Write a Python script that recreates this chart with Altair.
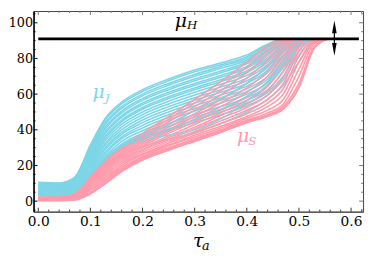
import altair as alt
import pandas as pd

# ---------------- data ----------------
X_GRID = [0.0, 0.04, 0.07, 0.10, 0.13, 0.16, 0.20, 0.25, 0.30, 0.35, 0.40, 0.44, 0.47, 0.50, 0.53, 0.56, 0.60]

MU_J_CURVES = [
    [10.6, 10.2, 13.5, 31.5, 47.0, 55.5, 62.5, 68.5, 73.5, 77.5, 82.0, 88.0, 91.0, 91, 91, 91, 91],
    [10.1, 9.8, 13.0, 30.5, 46.0, 54.5, 61.5, 67.5, 72.5, 76.5, 81.0, 87.5, 91.0, 91, 91, 91, 91],
    [9.6, 9.3, 12.5, 29.5, 44.5, 53.0, 60.0, 66.0, 71.0, 75.5, 80.0, 86.5, 90.5, 91, 91, 91, 91],
    [9.1, 8.9, 12.0, 28.5, 43.5, 52.0, 59.0, 65.0, 70.0, 74.5, 79.0, 86.0, 90.5, 91, 91, 91, 91],
    [8.7, 8.5, 11.5, 27.5, 42.0, 50.5, 57.5, 63.5, 68.5, 73.0, 78.0, 85.0, 90.0, 91, 91, 91, 91],
    [8.3, 8.1, 11.0, 26.5, 41.0, 49.5, 56.5, 62.5, 67.5, 72.0, 77.0, 84.0, 89.5, 91, 91, 91, 91],
    [7.9, 7.7, 10.5, 25.5, 39.5, 48.0, 55.0, 61.0, 66.0, 70.5, 75.5, 83.0, 89.0, 91, 91, 91, 91],
    [7.5, 7.3, 10.0, 24.5, 38.5, 47.0, 54.0, 60.0, 65.0, 69.5, 74.5, 82.0, 88.5, 91, 91, 91, 91],
    [7.1, 7.0, 9.6, 23.5, 37.0, 45.5, 52.5, 58.5, 63.5, 68.0, 73.0, 80.5, 88.0, 91, 91, 91, 91],
    [6.7, 6.6, 9.2, 22.5, 36.0, 44.5, 51.5, 57.5, 62.5, 67.0, 72.0, 79.5, 87.5, 91, 91, 91, 91],
    [6.3, 6.2, 8.8, 21.5, 34.5, 43.0, 50.0, 56.0, 61.0, 65.5, 70.5, 78.0, 86.5, 90.5, 91, 91, 91],
    [6.0, 5.9, 8.4, 20.5, 33.0, 41.5, 48.5, 54.5, 59.5, 64.0, 69.0, 76.5, 85.5, 90.5, 91, 91, 91],
    [5.6, 5.5, 8.0, 19.5, 32.0, 40.0, 47.0, 53.0, 58.0, 62.5, 67.5, 75.0, 84.5, 90.0, 91, 91, 91],
    [5.3, 5.2, 7.6, 18.5, 30.5, 38.5, 45.5, 51.5, 56.5, 61.0, 66.0, 73.5, 83.5, 90.0, 91, 91, 91],
    [5.0, 4.9, 7.2, 17.5, 29.5, 37.5, 44.0, 50.0, 55.0, 59.5, 64.5, 72.0, 82.0, 89.5, 91, 91, 91],
    [4.7, 4.6, 6.8, 16.5, 28.0, 36.0, 42.5, 48.5, 53.5, 58.0, 63.0, 70.0, 80.5, 89.0, 91, 91, 91],
    [4.4, 4.3, 6.4, 15.5, 27.0, 35.0, 41.0, 47.0, 52.0, 56.5, 61.5, 68.5, 79.0, 88.5, 91, 91, 91],
    [4.1, 4.0, 6.0, 14.5, 25.5, 33.5, 39.5, 45.5, 50.5, 55.0, 60.0, 66.5, 77.0, 88.0, 91, 91, 91],
    [3.8, 3.7, 5.6, 13.5, 24.5, 32.0, 38.0, 43.5, 48.5, 53.0, 58.0, 64.5, 75.0, 87.0, 91, 91, 91],
    [3.5, 3.4, 5.2, 13.0, 23.5, 31.0, 36.5, 42.0, 47.0, 51.5, 56.5, 62.5, 72.5, 86.0, 91, 91, 91],
    [3.2, 3.1, 4.8, 12.5, 22.5, 30.0, 35.5, 40.5, 45.5, 50.0, 55.0, 61.0, 70.0, 84.0, 91, 91, 91],
    [3.0, 2.9, 4.5, 12.0, 22.0, 29.0, 34.5, 39.5, 44.0, 48.5, 53.5, 59.5, 68.0, 82.0, 90.5, 91, 91],
    [2.9, 2.8, 4.2, 11.0, 19.5, 25.5, 30.5, 34.5, 38.5, 43.5, 50.0, 57.0, 65.0, 78.0, 89.5, 91, 91],
]

# a few μ_J curves that run through the μ_S bundle and show on top of it
MU_J_CROSSING = [
    [3.1, 3.0, 5.0, 14.5, 23.5, 30.5, 34.0, 37.0, 40.0, 46.0, 56.0, 65.5, 75.0, 86.5, 91, 91, 91],
    [3.4, 3.3, 5.2, 14.8, 24.0, 31.0, 35.5, 40.0, 45.5, 51.5, 59.0, 67.0, 78.0, 89.0, 91, 91, 91],
    [3.6, 3.5, 5.4, 15.0, 24.5, 31.5, 37.0, 43.0, 50.5, 57.5, 66.0, 75.5, 85.0, 90.5, 91, 91, 91],
]

MU_S_CURVES = [
    [2.6, 2.6, 5.0, 14.5, 23.5, 30.5, 38.0, 47.5, 57.0, 67.0, 78.0, 87.0, 91.0, 91, 91, 91, 91],
    [2.5, 2.5, 4.8, 14.0, 23.0, 30.0, 37.0, 46.0, 55.0, 64.5, 75.0, 84.5, 90.0, 91, 91, 91, 91],
    [2.3, 2.3, 4.6, 13.5, 22.5, 29.0, 36.0, 44.5, 53.0, 62.0, 72.0, 82.0, 89.0, 91, 91, 91, 91],
    [2.2, 2.2, 4.4, 13.0, 22.0, 28.5, 35.0, 43.0, 51.0, 59.5, 69.0, 79.0, 87.5, 91, 91, 91, 91],
    [2.1, 2.1, 4.2, 12.5, 21.0, 27.5, 34.0, 41.5, 49.0, 57.0, 66.0, 76.0, 86.0, 90.5, 91, 91, 91],
    [1.9, 1.9, 4.0, 12.0, 20.5, 27.0, 33.0, 40.0, 47.5, 55.0, 63.5, 73.0, 84.0, 90.5, 91, 91, 91],
    [1.8, 1.8, 3.7, 11.5, 20.0, 26.0, 32.0, 39.0, 46.0, 53.0, 61.0, 70.0, 81.5, 90.0, 91, 91, 91],
    [1.7, 1.7, 3.4, 11.0, 19.0, 25.5, 31.0, 38.0, 44.5, 51.0, 58.5, 67.0, 79.0, 89.5, 91, 91, 91],
    [1.5, 1.5, 3.1, 10.5, 18.5, 24.5, 30.0, 36.5, 43.0, 49.5, 56.5, 64.5, 76.0, 88.5, 91, 91, 91],
    [1.4, 1.4, 2.8, 10.0, 17.5, 24.0, 29.0, 35.5, 41.5, 48.0, 54.5, 62.0, 73.0, 87.5, 91, 91, 91],
    [1.3, 1.3, 2.5, 9.5, 17.0, 23.0, 28.5, 34.5, 40.5, 46.5, 52.5, 59.5, 69.5, 86.0, 91, 91, 91],
    [1.1, 1.1, 2.2, 9.0, 16.0, 22.0, 27.5, 33.5, 39.0, 45.0, 51.0, 57.0, 66.0, 84.0, 91, 91, 91],
    [1.0, 1.0, 2.0, 8.0, 15.0, 21.0, 26.5, 32.5, 38.0, 43.5, 49.0, 55.0, 63.0, 81.0, 90.5, 91, 91],
    [0.9, 0.9, 1.7, 7.5, 14.0, 20.0, 26.0, 31.5, 37.0, 42.0, 47.5, 53.0, 60.0, 78.0, 90.0, 91, 91],
    [0.7, 0.7, 1.5, 6.5, 13.0, 19.0, 25.0, 31.0, 36.0, 41.0, 46.5, 51.0, 57.0, 74.0, 89.5, 91, 91],
    [0.6, 0.6, 1.2, 6.0, 12.0, 18.0, 24.5, 30.0, 35.0, 40.0, 45.5, 49.5, 54.5, 70.0, 88.5, 91, 91],
    [0.5, 0.5, 1.0, 5.0, 11.0, 17.5, 24.0, 29.5, 34.5, 39.5, 45.0, 48.5, 53.0, 66.0, 87.0, 91, 91],
    [0.4, 0.4, 0.8, 4.5, 10.5, 17.0, 23.5, 29.0, 34.0, 39.0, 44.5, 48.0, 52.0, 64.0, 86.0, 91, 91],
    [0.3, 0.3, 0.7, 4.0, 10.0, 16.5, 23.0, 28.5, 33.5, 38.5, 44.0, 47.5, 51.5, 63.5, 86.0, 91, 91],
]

MU_H = 91
MU_H_X = [0.0, 0.615]

X_MAJOR = [0.0, 0.1, 0.2, 0.3, 0.4, 0.5, 0.6]
X_MINOR = [0.02, 0.04, 0.06, 0.08, 0.12, 0.14, 0.16, 0.18, 0.22, 0.24, 0.26, 0.28,
           0.32, 0.34, 0.36, 0.38, 0.42, 0.44, 0.46, 0.48, 0.52, 0.54, 0.56, 0.58, 0.62]
Y_MAJOR = [0, 20, 40, 60, 80, 100]
Y_MINOR = [-5, 5, 10, 15, 25, 30, 35, 45, 50, 55, 65, 70, 75, 85, 90, 95, 105]

ARROW_X = 0.568
ARROW_TOP = 97.7
ARROW_BOTTOM = 85.1

CYAN = "#7cd6e7"
PINK = "#ff9aab"

# label texts: (text, x, y, font size, colour)
LABELS = [
    ("μ", 0.262, 97.9, 19, "black"),
    ("H", 0.2855, 96.4, 12, "black"),
    ("μ", 0.104, 57.9, 19, CYAN),
    ("J", 0.128, 55.4, 12, CYAN),
    ("μ", 0.381, 33.0, 19, PINK),
    ("S", 0.403, 31.4, 12, PINK),
]
X_TITLE = [("τ", 0.297, 36, 19), ("a", 0.314, 38.5, 13)]

# ---------------- layout ----------------
W, H = 335, 204
XD = [-0.009, 0.623]
YD = [-5.9, 106.6]
FONT = "DejaVu Serif"

xscale = alt.Scale(domain=XD, nice=False, zero=False)
yscale = alt.Scale(domain=YD, nice=False, zero=False)

x_axis = alt.Axis(values=X_MAJOR, format=".1f", labelFont=FONT, labelFontSize=14,
                  labelColor="black", ticks=False, grid=False, domainColor="#444",
                  labelPadding=3, labelFlush=False, title=None)
y_axis = alt.Axis(values=Y_MAJOR, format="d", labelFont=FONT, labelFontSize=13,
                  labelColor="black", ticks=False, grid=False, domainColor="black",
                  domainWidth=1.5, labelPadding=1, labelFlush=False, title=None)


def X(field):
    return alt.X(field, scale=xscale, axis=x_axis)


def Y(field):
    return alt.Y(field, scale=yscale, axis=y_axis)


def curves_df(curves, name):
    rows = []
    for i, ys in enumerate(curves):
        for x, y in zip(X_GRID, ys):
            rows.append({"x": x, "y": y, "curve": f"{name}{i}"})
    return pd.DataFrame(rows)


df_j = curves_df(MU_J_CURVES, "J")
df_jc = curves_df(MU_J_CROSSING, "JC")
df_s = curves_df(MU_S_CURVES, "S")

lines_j = alt.Chart(df_j).mark_line(color=CYAN, strokeWidth=1.6, interpolate="monotone").encode(
    x=X("x:Q"), y=Y("y:Q"), detail="curve:N")
lines_s = alt.Chart(df_s).mark_line(color=PINK, strokeWidth=1.6, interpolate="monotone").encode(
    x=X("x:Q"), y=Y("y:Q"), detail="curve:N")
lines_jc = alt.Chart(df_jc).mark_line(color=CYAN, strokeWidth=1.1, interpolate="monotone").encode(
    x=X("x:Q"), y=Y("y:Q"), detail="curve:N")

mu_h = alt.Chart(pd.DataFrame({"x": [MU_H_X[0]], "x2": [MU_H_X[1]], "y": [MU_H]})).mark_rule(
    color="black", strokeWidth=2.8).encode(x=X("x:Q"), x2="x2:Q", y=Y("y:Q"))

arrow_df = pd.DataFrame({"x": [ARROW_X], "y": [ARROW_BOTTOM], "y2": [ARROW_TOP]})
shaft = alt.Chart(arrow_df).mark_rule(color="black", strokeWidth=1.2).encode(
    x=X("x:Q"), y=Y("y:Q"), y2="y2:Q")
head_up = alt.Chart(pd.DataFrame({"x": [ARROW_X], "y": [ARROW_TOP]})).mark_point(
    filled=True, color="black", opacity=1, size=169,
    shape="M0,-1L0.36,1L-0.36,1Z").encode(x=X("x:Q"), y=Y("y:Q"))
head_down = alt.Chart(pd.DataFrame({"x": [ARROW_X], "y": [ARROW_BOTTOM]})).mark_point(
    filled=True, color="black", opacity=1, size=169,
    shape="M0,1L0.36,-1L-0.36,-1Z").encode(x=X("x:Q"), y=Y("y:Q"))

lab_df = pd.DataFrame(LABELS, columns=["t", "x", "y", "fs", "c"])
labels = alt.Chart(lab_df).mark_text(font=FONT, fontStyle="italic", align="left",
                                     baseline="alphabetic").encode(
    x=X("x:Q"), y=Y("y:Q"),
    text="t:N",
    size=alt.Size("fs:Q", scale=None, legend=None),
    color=alt.Color("c:N", scale=None, legend=None),
)

title_layers = []
for t, x, dy, fs in X_TITLE:
    title_layers.append(
        alt.Chart(pd.DataFrame({"t": [t], "x": [x]})).mark_text(
            font=FONT, fontStyle="italic", fontSize=fs, align="left",
            baseline="alphabetic", color="black").encode(
            x=X("x:Q"), y=alt.value(H + dy), text="t:N")
    )


def xticks(vals, y0, y1, color):
    return alt.Chart(pd.DataFrame({"v": vals})).mark_rule(color=color, strokeWidth=1).encode(
        x=X("v:Q"), y=alt.value(y0), y2=alt.value(y1))


def yticks(vals, x0, x1, color):
    return alt.Chart(pd.DataFrame({"v": vals})).mark_rule(color=color, strokeWidth=1).encode(
        y=Y("v:Q"), x=alt.value(x0), x2=alt.value(x1))


ticks = [
    xticks(X_MAJOR, H, H - 4, "#333"), xticks(X_MINOR, H, H - 2, "#333"),
    xticks(X_MAJOR, 0, 4, "#777"), xticks(X_MINOR, 0, 2, "#777"),
    yticks(Y_MAJOR, 0, 4, "black"), yticks(Y_MINOR, 0, 2, "black"),
    yticks(Y_MAJOR, W, W - 4, "#777"), yticks(Y_MINOR, W, W - 2, "#777"),
]

chart = alt.layer(
    lines_j, lines_s, lines_jc, mu_h, shaft, head_up, head_down, labels, *title_layers, *ticks
).properties(
    width=W, height=H, padding={"left": 0, "top": 0, "right": 2, "bottom": 0}
).configure_view(stroke="#444", strokeWidth=1)

chart.save("out.html", embed_options={"renderer": "svg", "actions": False})
